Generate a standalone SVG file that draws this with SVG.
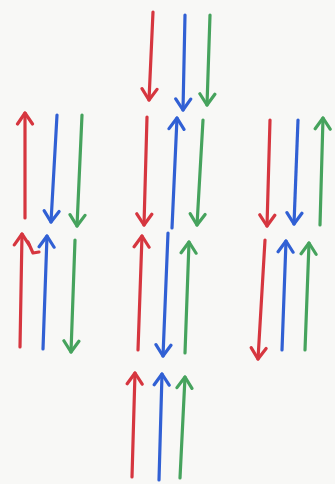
<svg xmlns="http://www.w3.org/2000/svg" width="335" height="484" viewBox="0 0 335 484">
<defs>
<style>
.r{stroke:#d6363f}.b{stroke:#3160d4}.g{stroke:#46a35d}
line,path{fill:none;stroke-width:3.2;stroke-linecap:round;stroke-linejoin:round}
</style>
<marker id="hr" viewBox="-14 -10 16 20" markerWidth="16" markerHeight="20" refX="0" refY="0" orient="auto" markerUnits="userSpaceOnUse"><path d="M-11,-7.5 L0,0 L-11,7.5" stroke="#d6363f" stroke-width="4"/></marker>
<marker id="hb" viewBox="-14 -10 16 20" markerWidth="16" markerHeight="20" refX="0" refY="0" orient="auto" markerUnits="userSpaceOnUse"><path d="M-11,-7.5 L0,0 L-11,7.5" stroke="#3160d4" stroke-width="4"/></marker>
<marker id="hg" viewBox="-14 -10 16 20" markerWidth="16" markerHeight="20" refX="0" refY="0" orient="auto" markerUnits="userSpaceOnUse"><path d="M-11,-7.5 L0,0 L-11,7.5" stroke="#46a35d" stroke-width="4"/></marker>
</defs>
<rect width="335" height="484" fill="#f8f8f6"/>
<g id="left">
<line class="r" x1="25" y1="218" x2="25" y2="113" marker-end="url(#hr)"/>
<line class="b" x1="57" y1="115" x2="51" y2="222" marker-end="url(#hb)"/>
<line class="g" x1="82" y1="115" x2="77" y2="226" marker-end="url(#hg)"/>
<line class="r" x1="20" y1="347" x2="22" y2="234" marker-end="url(#hr)"/>
<path class="r" d="M28,242 L33,253 L39,252"/>
<line class="b" x1="43" y1="349" x2="47" y2="236" marker-end="url(#hb)"/>
<line class="g" x1="75" y1="240" x2="71" y2="352" marker-end="url(#hg)"/>
</g>
<g id="middle">
<line class="r" x1="153" y1="12" x2="149" y2="100" marker-end="url(#hr)"/>
<line class="b" x1="185" y1="15" x2="183" y2="110" marker-end="url(#hb)"/>
<line class="g" x1="210" y1="15" x2="207" y2="105" marker-end="url(#hg)"/>
<line class="r" x1="147" y1="117" x2="144" y2="225" marker-end="url(#hr)"/>
<line class="b" x1="172" y1="228" x2="177" y2="118" marker-end="url(#hb)"/>
<line class="g" x1="203" y1="120" x2="197" y2="225" marker-end="url(#hg)"/>
<line class="r" x1="138" y1="350" x2="142" y2="236" marker-end="url(#hr)"/>
<line class="b" x1="168" y1="233" x2="163" y2="356" marker-end="url(#hb)"/>
<line class="g" x1="185" y1="353" x2="189" y2="242" marker-end="url(#hg)"/>
<line class="r" x1="132" y1="477" x2="135" y2="373" marker-end="url(#hr)"/>
<line class="b" x1="159" y1="480" x2="162" y2="374" marker-end="url(#hb)"/>
<line class="g" x1="180" y1="478" x2="185" y2="377" marker-end="url(#hg)"/>
</g>
<g id="right">
<line class="r" x1="270" y1="120" x2="267" y2="226" marker-end="url(#hr)"/>
<line class="b" x1="298" y1="120" x2="294" y2="224" marker-end="url(#hb)"/>
<line class="g" x1="320" y1="225" x2="323" y2="118" marker-end="url(#hg)"/>
<line class="r" x1="265" y1="240" x2="258" y2="359" marker-end="url(#hr)"/>
<line class="b" x1="282" y1="350" x2="286" y2="241" marker-end="url(#hb)"/>
<line class="g" x1="305" y1="350" x2="309" y2="243" marker-end="url(#hg)"/>
</g>
</svg>
